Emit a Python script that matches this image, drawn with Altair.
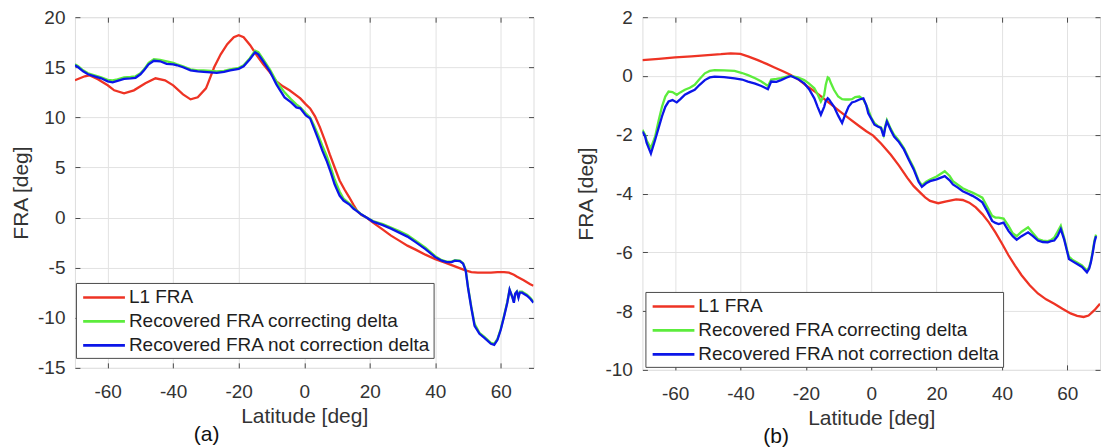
import altair as alt
import pandas as pd

SERIES = ["L1 FRA", "Recovered FRA correcting delta", "Recovered FRA not correction delta"]
COLORS = ["#ee3324", "#5cec3c", "#0b16e8"]
X_TICKS = [-60, -40, -20, 0, 20, 40, 60]

# ---------------- panel (a) ----------------
a_red_lat = [-70, -67, -65.6, -63, -60, -58, -55, -52, -48.5, -45.4, -42.5, -40, -37, -34.7, -32.5, -30,
             -29.5, -27.5, -25.5, -23.5, -21.5, -20, -18.5, -16.5, -14.5, -12.5, -10.5, -8.5, -6.5, -4.5,
             -2.4, -1.2, 0.5, 1.8, 3.3, 4.8, 6.3, 7.8, 9.3, 10.8, 12.3, 13.8, 15, 16.3, 17.5, 19, 21, 24,
             26.5, 29, 31.5, 34, 37, 40, 43, 45, 47, 49, 51, 53, 55, 57, 59, 61, 62.5, 64, 65, 67, 69, 70]
a_red_fra = [13.7, 14.1, 14.2, 13.8, 13.2, 12.7, 12.4, 12.7, 13.4, 13.9, 13.7, 13.2, 12.3, 11.8, 12.0, 12.9,
             13.3, 15.0, 16.3, 17.3, 18.0, 18.2, 18.0, 17.2, 16.2, 15.3, 14.5, 13.6, 13.1, 12.7,
             12.2, 11.9, 11.3, 10.9, 10.1, 9.0, 7.7, 6.3, 5.0, 3.7, 2.8, 2.0, 1.3, 0.6, 0.25, 0.0, -0.5, -1.2,
             -1.8, -2.3, -2.8, -3.2, -3.7, -4.15, -4.5, -4.75, -5.0, -5.25, -5.45, -5.5, -5.5, -5.5, -5.45,
             -5.45, -5.5, -5.7, -5.9, -6.25, -6.65, -6.8]

a_rec_lat = [-70, -69, -67.5, -66, -64, -62, -60, -58.5, -57, -55, -53, -51.5, -50, -48.9, -47.5, -45.9,
             -44, -42, -40, -38.8, -37, -34.7, -32.5, -30.7, -28.5, -26.7, -24.5, -22.6, -20, -18.5, -16.6,
             -15, -14, -12.5, -10.5, -8.5, -6, -4, -2.4, -1.2, 0.5, 1.8, 3, 4.3, 5.5, 6.8, 8, 9.3, 10.8, 12,
             13.8, 15, 16.3, 17.5, 19, 21, 24, 26.5, 29, 31.5, 34, 37, 40, 42, 43.5, 45, 46, 47.5, 48.5, 49.3,
             50, 51, 52, 53.5, 55, 57, 58, 59, 60, 61, 62, 62.7, 63.5, 64.0, 64.4, 64.9, 65.4, 65.8, 66.5,
             68, 69, 70]
a_grn_fra = [15.3, 15.1, 14.7, 14.4, 14.2, 14.0, 13.75, 13.7, 13.8, 14.0, 14.05, 14.1, 14.4, 14.8, 15.45,
             15.8, 15.75, 15.6, 15.45, 15.3, 15.1, 14.8, 14.7, 14.7, 14.65, 14.6, 14.65, 14.8, 14.95, 15.2,
             15.9, 16.65, 16.5, 15.8, 14.8, 13.6, 12.5, 11.8, 11.3, 11.0, 10.4, 10.0, 9.2, 8.2, 7.2, 6.2, 5.1,
             3.8, 2.6, 1.9, 1.4, 1.0, 0.65, 0.3, 0.0, -0.35, -0.65, -1.0, -1.35, -1.75, -2.3, -3.0, -3.85,
             -4.25, -4.4, -4.4, -4.25, -4.3, -4.55, -5.2, -6.9, -8.9, -10.6, -11.5, -11.9, -12.5, -12.6,
             -12.1, -11.1, -9.8, -8.4, -7.2, -7.9, -8.4, -7.6, -7.4, -7.9, -7.4, -7.4, -7.7, -8.0, -8.4]
a_blu_fra = [15.2, 15.0, 14.6, 14.3, 14.1, 13.9, 13.6, 13.5, 13.65, 13.85, 13.9, 13.95, 14.3, 14.7, 15.3,
             15.65, 15.6, 15.35, 15.3, 15.2, 15.0, 14.7, 14.6, 14.55, 14.5, 14.45, 14.55, 14.7, 14.85, 15.1,
             15.8, 16.5, 16.3, 15.6, 14.6, 13.3, 12.0, 11.5, 11.0, 10.9, 10.2, 9.9, 8.9, 7.8, 6.7, 5.7, 4.6,
             3.3, 2.2, 1.7, 1.3, 0.9, 0.6, 0.3, 0.0, -0.4, -0.75, -1.1, -1.5, -1.9, -2.45, -3.15, -3.95,
             -4.3, -4.45, -4.45, -4.3, -4.35, -4.6, -5.3, -7.0, -9.0, -10.8, -11.6, -12.0, -12.6, -12.7,
             -12.2, -11.2, -9.9, -8.5, -7.2, -7.9, -8.5, -7.6, -7.4, -8.0, -7.5, -7.5, -7.8, -8.1, -8.5]

# ---------------- panel (b) ----------------
b_red_lat = [-70, -65, -60, -55, -50, -46, -43, -40, -37.5, -34.7, -32, -29.6, -27, -24.6, -22, -19.7, -17,
             -14.6, -12, -9.5, -6.5, -3.5, -1.5, 0.6, 3, 6, 8.5, 11, 13, 15, 16.5, 18, 20.5, 23, 26, 28, 30,
             32, 34, 36, 38, 40, 42, 44, 46, 48.5, 51, 53.5, 56, 58.5, 61, 63, 65, 66.5, 68.3, 70]
b_red_fra = [0.54, 0.58, 0.63, 0.67, 0.71, 0.74, 0.77, 0.75, 0.66, 0.54, 0.41, 0.29, 0.16, 0.03, -0.14,
             -0.34, -0.55, -0.76, -0.99, -1.21, -1.47, -1.72, -1.88, -2.03, -2.3, -2.68, -3.05, -3.46,
             -3.75, -3.97, -4.13, -4.25, -4.33, -4.27, -4.2, -4.22, -4.31, -4.47, -4.7, -4.98, -5.32,
             -5.7, -6.1, -6.45, -6.78, -7.12, -7.4, -7.6, -7.75, -7.92, -8.08, -8.16, -8.2, -8.15, -7.97, -7.75]

b_rec_lat = [-70, -69.2, -68.7, -67.4, -66.1, -65, -64, -63, -62, -60.8, -59.5, -58.3, -57, -55.5, -54,
             -52.5, -50.9, -49.4, -47.9, -45, -41.8, -39.5, -37.7, -35.5, -33.6, -31.6, -30.6, -29, -27.6,
             -26, -24.6, -22.5, -20.5, -19, -17.4, -16.4, -15.4, -14.4, -13.9, -13.3, -12.9, -12.3, -11.4,
             -10.1, -8.9, -7.9, -6.9, -5.9, -4.9, -3.6, -2.4, -1.5, -0.9, 0, 1, 2, 3, 3.8, 4.3, 4.8, 6, 7,
             8.5, 10, 11.5, 13, 14.5, 15.5, 16.8, 18, 20, 22.5, 24, 25, 26.5, 28, 29.5, 31, 32.5, 34, 35.5,
             37, 38, 39, 40.5, 42, 43.3, 44.5, 46, 48, 49.5, 51, 52.5, 54, 55, 56, 57, 58, 59, 60, 60.5,
             61.5, 63, 64.5, 66, 66.7, 67.2, 67.8, 68.3, 68.8]
b_grn_fra = [-1.83, -2.0, -2.2, -2.45, -2.06, -1.5, -1.04, -0.7, -0.53, -0.55, -0.64, -0.55, -0.47, -0.4,
             -0.3, -0.1, 0.09, 0.17, 0.2, 0.19, 0.17, 0.1, 0.03, -0.08, -0.19, -0.34, -0.12, -0.1, -0.07,
             -0.02, 0.0, -0.05, -0.14, -0.26, -0.42, -0.62, -0.87, -0.65, -0.3, -0.05, -0.08, -0.25, -0.47,
             -0.7, -0.79, -0.8, -0.8, -0.79, -0.72, -0.7, -0.8, -1.0, -1.15, -1.42, -1.6, -1.7, -1.75, -2.0,
             -1.7, -1.5, -1.8, -2.0, -2.2, -2.45, -2.8, -3.12, -3.55, -3.72, -3.6, -3.52, -3.42, -3.24,
             -3.4, -3.58, -3.7, -3.82, -3.9, -3.97, -4.05, -4.14, -4.45, -4.76, -4.82, -4.82, -4.85, -5.1,
             -5.35, -5.45, -5.3, -5.15, -5.35, -5.55, -5.6, -5.62, -5.58, -5.5, -5.3, -5.1, -5.5, -5.95,
             -6.15, -6.25, -6.35, -6.45, -6.62, -6.5, -6.3, -5.95, -5.6, -5.4]
b_blu_fra = [-1.89, -2.05, -2.28, -2.64, -2.17, -1.75, -1.37, -1.05, -0.87, -0.82, -0.9, -0.78, -0.64,
             -0.55, -0.47, -0.3, -0.14, -0.05, -0.02, -0.04, -0.08, -0.12, -0.19, -0.26, -0.34, -0.45,
             -0.19, -0.2, -0.14, -0.06, 0.0, -0.1, -0.25, -0.45, -0.76, -1.05, -1.32, -1.05, -0.85, -0.76,
             -0.8, -0.9, -1.04, -1.35, -1.6, -1.3, -1.04, -0.9, -0.87, -0.8, -0.76, -1.0, -1.27, -1.45,
             -1.66, -1.72, -1.77, -2.06, -1.75, -1.55, -1.85, -2.06, -2.25, -2.5, -2.85, -3.18, -3.6, -3.77,
             -3.65, -3.58, -3.52, -3.41, -3.55, -3.69, -3.8, -3.92, -4.0, -4.08, -4.18, -4.3, -4.6, -4.93,
             -5.0, -5.04, -4.99, -5.27, -5.45, -5.57, -5.45, -5.32, -5.45, -5.6, -5.65, -5.66, -5.62, -5.6,
             -5.45, -5.21, -5.55, -6.0, -6.23, -6.3, -6.4, -6.5, -6.68, -6.55, -6.35, -6.0, -5.66, -5.45]

FONT = "Liberation Sans"
TXT = "#333333"
FRAME = "#4a4a4a"
GRID = "#e2e2e2"


def long_df(parts):
    rows = []
    for name, lats, vals in parts:
        for x, y in zip(lats, vals):
            rows.append({"series": name, "lat": x, "fra": y})
    return pd.DataFrame(rows)


df_a = long_df([(SERIES[0], a_red_lat, a_red_fra), (SERIES[1], a_rec_lat, a_grn_fra),
                (SERIES[2], a_rec_lat, a_blu_fra)])
df_b = long_df([(SERIES[0], b_red_lat, b_red_fra), (SERIES[1], b_rec_lat, b_grn_fra),
                (SERIES[2], b_rec_lat, b_blu_fra)])


def panel(df, ydom, yticks, w, h, legx, legy, tag, tagdx, ytitlepad):
    xscale = alt.Scale(domain=[-70, 70], nice=False, zero=False)
    yscale = alt.Scale(domain=ydom, nice=False, zero=False)
    color = alt.Color(
        "series:N",
        scale=alt.Scale(domain=SERIES, range=COLORS),
        legend=alt.Legend(
            orient="none", legendX=legx, legendY=legy, title=None,
            symbolType="M-0.66,0H3.14", symbolSize=484, symbolStrokeWidth=2.6,
            labelFont=FONT, labelFontSize=19, labelColor="#1e1e1e", labelOffset=26,
            labelLimit=500, padding=2, rowPadding=1, strokeColor=FRAME,
            fillColor="white", cornerRadius=0,
        ),
    )
    lines = alt.Chart(df).mark_line(strokeWidth=2.3, clip=True).encode(
        x=alt.X("lat:Q", scale=xscale, axis=alt.Axis(
            orient="bottom", values=X_TICKS, title="Latitude [deg]", grid=True,
            gridColor=GRID, gridWidth=1, domain=False, ticks=True, tickSize=5, offset=-5,
            tickColor=FRAME, labelPadding=15, labelExpr="toString(datum.value)",
            labelFont=FONT, labelFontSize=19, labelColor=TXT, titleFont=FONT,
            titleFontSize=21, titleFontWeight="normal", titleColor=TXT, titlePadding=4)),
        y=alt.Y("fra:Q", scale=yscale, axis=alt.Axis(
            orient="left", values=yticks, title="FRA [deg]", grid=True,
            gridColor=GRID, gridWidth=1, domain=False, ticks=True, tickSize=5, offset=-5,
            tickColor=FRAME, labelPadding=10, labelExpr="toString(datum.value)",
            labelFont=FONT, labelFontSize=19, labelColor=TXT, titleFont=FONT,
            titleFontSize=21, titleFontWeight="normal", titleColor=TXT,
            titlePadding=ytitlepad)),
        color=color,
    )
    ticks = alt.Chart(df).mark_line(opacity=0).encode(
        x=alt.X("lat:Q", scale=xscale, axis=alt.Axis(
            orient="top", values=X_TICKS, title=None, labels=False, grid=False,
            domain=False, tickSize=5, offset=-5, tickColor=FRAME)),
        y=alt.Y("fra:Q", scale=yscale, axis=alt.Axis(
            orient="right", values=yticks, title=None, labels=False, grid=False,
            domain=False, tickSize=5, offset=-5, tickColor=FRAME)),
    )
    return alt.layer(lines, ticks).properties(
        width=w, height=h,
        title=alt.TitleParams(tag, orient="bottom", anchor="start", frame="group",
                              dx=tagdx, offset=-3, fontSize=21, font=FONT,
                              fontWeight="normal", color="#111111"),
    )


pa = panel(df_a, [-15, 20], [-15, -10, -5, 0, 5, 10, 15, 20], 459, 351, 1, 266, "(a)", 119, 6.5)
pb = panel(df_b, [-10, 2], [-10, -8, -6, -4, -2, 0, 2], 458, 353, 3, 275, "(b)", 121, 8.5)

chart = alt.hconcat(pa, pb, spacing=40).resolve_scale(color="independent").resolve_legend(
    color="independent"
).properties(
    padding={"left": 9, "top": 7, "right": 0, "bottom": 0}
).configure_view(stroke=FRAME, strokeWidth=1.2).configure(background="white")

chart.save("out.html", embed_options={"renderer": "svg", "actions": False})
